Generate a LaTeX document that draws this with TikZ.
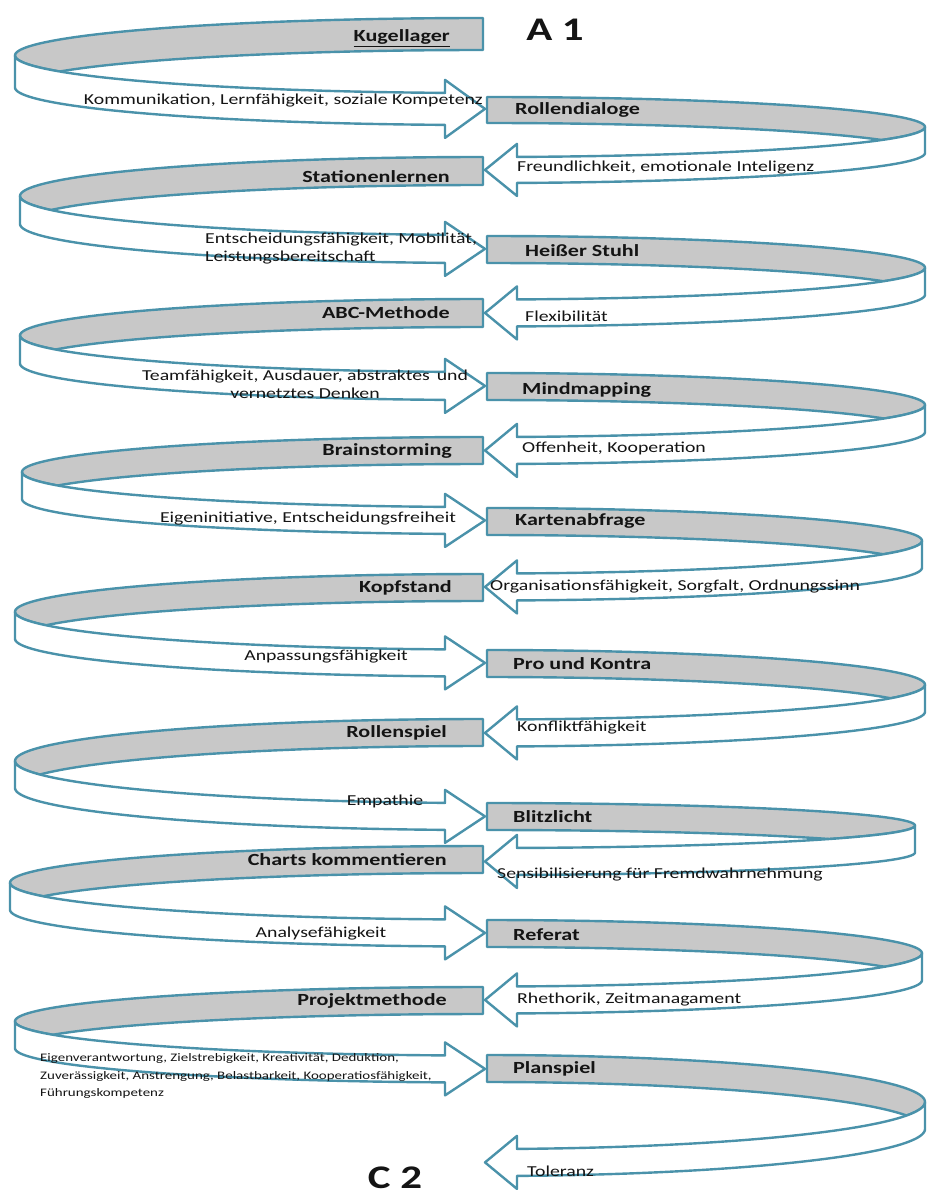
\documentclass[tikz,border=0pt]{standalone}
\usepackage{fontspec}
\setmainfont{Carlito}[FakeStretch=1.3]
\definecolor{bandline}{RGB}{74,146,170}
\definecolor{bandgrey}{RGB}{200,200,200}
\definecolor{ink}{RGB}{20,20,20}
\tikzset{
  band/.style={draw=bandline,line width=2.4pt,line join=round},
  lbl/.style={inner sep=0pt,text=ink,font=\fontsize{17}{19}\selectfont\bfseries},
  sml/.style={inner sep=0pt,text=ink,font=\fontsize{15.2}{18}\selectfont},
  big/.style={inner sep=0pt,text=ink,font=\fontsize{33}{36}\selectfont\bfseries}
}
% left loop: #1 top of box, #2 band width, #3 y radius, #4 leftmost x
\newcommand{\LUnit}[4]{%
  \pgfmathsetmacro\ucx{483}%
  \pgfmathsetmacro\urx{483-#4}%
  \pgfmathsetmacro\ury{#3}%
  \pgfmathsetmacro\uya{#1+#3}%
  \pgfmathsetmacro\uyb{#1+#3+#2}%
  \pgfmathsetmacro\uthP{180-asin(#2/(2*#3))}%
  \pgfmathsetmacro\uthB{acos((445-483)/\urx)}%
  \pgfmathsetmacro\uyt{\uya+\ury*sin(\uthB)}%
  \pgfmathsetmacro\uyu{\uyb+\ury*sin(\uthB)}%
  \pgfmathsetmacro\uym{(\uyt+\uyu)/2}%
  \filldraw[band,fill=bandgrey] plot[domain=90:180,samples=60] ({\ucx+\urx*cos(\x)},{\uya-\ury*sin(\x)})
    -- plot[domain=180:\uthP,samples=30] ({\ucx+\urx*cos(\x)},{\uya+\ury*sin(\x)})
    -- plot[domain=\uthP:90,samples=60] ({\ucx+\urx*cos(\x)},{\uyb-\ury*sin(\x)}) -- cycle;
  \filldraw[band,fill=white] plot[domain=180:\uthB,samples=60] ({\ucx+\urx*cos(\x)},{\uya+\ury*sin(\x)})
    -- (445,\uyt-13) -- (485,\uym) -- (445,\uyu+13)
    -- plot[domain=\uthB:180,samples=60] ({\ucx+\urx*cos(\x)},{\uyb+\ury*sin(\x)}) -- cycle;
}
% right loop: #1 top of box, #2 band width, #3 y radius, #4 rightmost x
\newcommand{\RUnit}[4]{%
  \pgfmathsetmacro\ucx{487}%
  \pgfmathsetmacro\urx{#4-487}%
  \pgfmathsetmacro\ury{#3}%
  \pgfmathsetmacro\uya{#1+#3}%
  \pgfmathsetmacro\uyb{#1+#3+#2}%
  \pgfmathsetmacro\uthP{asin(#2/(2*#3))}%
  \pgfmathsetmacro\uthB{acos((517-487)/\urx)}%
  \pgfmathsetmacro\uyt{\uya+\ury*sin(\uthB)}%
  \pgfmathsetmacro\uyu{\uyb+\ury*sin(\uthB)}%
  \pgfmathsetmacro\uym{(\uyt+\uyu)/2}%
  \filldraw[band,fill=bandgrey] plot[domain=90:0,samples=60] ({\ucx+\urx*cos(\x)},{\uya-\ury*sin(\x)})
    -- plot[domain=0:\uthP,samples=30] ({\ucx+\urx*cos(\x)},{\uya+\ury*sin(\x)})
    -- plot[domain=\uthP:90,samples=60] ({\ucx+\urx*cos(\x)},{\uyb-\ury*sin(\x)}) -- cycle;
  \filldraw[band,fill=white] plot[domain=0:\uthB,samples=60] ({\ucx+\urx*cos(\x)},{\uya+\ury*sin(\x)})
    -- (517,\uyt-13) -- (485,\uym) -- (517,\uyu+13)
    -- plot[domain=\uthB:0,samples=60] ({\ucx+\urx*cos(\x)},{\uyb+\ury*sin(\x)}) -- cycle;
}
\begin{document}
\begin{tikzpicture}[x=1pt,y=-1pt]
\useasboundingbox (0,0) rectangle (928,1196);
\fill[white] (0,0) rectangle (928,1196);

\LUnit{18}{32}{37.5}{15}
\RUnit{97}{26}{30}{925}
\LUnit{157}{28}{39}{20}
\RUnit{236}{27}{31.75}{925}
\LUnit{299}{28}{36.5}{20}
\RUnit{373}{27}{32}{925}
\LUnit{437}{27}{35}{22}
\RUnit{508}{27}{32.75}{922}
\LUnit{574}{27}{37.75}{15}
\RUnit{650}{27}{34.75}{925}
\LUnit{719}{27}{42}{15}
\RUnit{803}{27}{22.5}{915}
\LUnit{846}{27}{36.75}{10}
\RUnit{920}{27}{33.25}{922}
\LUnit{987}{27}{34.25}{15}
\RUnit{1055}{27}{47}{925}

% method labels
\node[lbl,anchor=east] (m1) at (450,38) {\underline{Kugellager}};
\node[lbl,anchor=west] (m2) at (515,110) {Rollendialoge};
\node[lbl,anchor=east] (m3) at (450,177) {Stationenlernen};
\node[lbl,anchor=west] (m4) at (525,251) {Heißer Stuhl};
\node[lbl,anchor=east] (m5) at (450,313) {ABC-Methode};
\node[lbl,anchor=west] (m6) at (522,390) {Mindmapping};
\node[lbl,anchor=east] (m7) at (452,451) {Brainstorming};
\node[lbl,anchor=west] (m8) at (515,521) {Kartenabfrage};
\node[lbl,anchor=east] (m9) at (452,588) {Kopfstand};
\node[lbl,anchor=west] (m10) at (513,664) {Pro und Kontra};
\node[lbl,anchor=east] (m11) at (447,733) {Rollenspiel};
\node[lbl,anchor=west] (m12) at (513,817) {Blitzlicht};
\node[lbl,anchor=east] (m13) at (447,860) {Charts kommentieren};
\node[lbl,anchor=west] (m14) at (513,935) {Referat};
\node[lbl,anchor=east] (m15) at (447,1001) {Projektmethode};
\node[lbl,anchor=west] (m16) at (513,1069) {Planspiel};

% competence texts
\node[sml,anchor=east] (c1) at (483,101) {Kommunikation, Lernfähigkeit, soziale Kompetenz};
\node[sml,anchor=west] (c2) at (517,168) {Freundlichkeit, emotionale Inteligenz};
\node[sml,anchor=west,align=left] (c3) at (205,249) {Entscheidungsfähigkeit, Mobilität,\\Leistungsbereitschaft};
\node[sml,anchor=west] (c4) at (525,316) {Flexibilität};
\node[sml,align=center] (c5) at (305,384) {Teamfähigkeit, Ausdauer, abstraktes\, und\\vernetztes Denken};
\node[sml,anchor=west] (c6) at (522,448) {Offenheit, Kooperation};
\node[sml] (c7) at (308,519) {Eigeninitiative, Entscheidungsfreiheit};
\node[sml,anchor=west] (c8) at (490,587) {Organisationsfähigkeit, Sorgfalt, Ordnungssinn};
\node[sml] (c9) at (326,657) {Anpassungsfähigkeit};
\node[sml,anchor=west] (c10) at (517,728) {Konfliktfähigkeit};
\node[sml] (c11) at (385,801) {Empathie};
\node[sml,anchor=west] (c12) at (497,875) {Sensibilisierung für Fremdwahrnehmung};
\node[sml] (c13) at (321,934) {Analysefähigkeit};
\node[sml,anchor=west] (c14) at (517,1000) {Rhethorik, Zeitmanagament};
\node[sml,anchor=west,align=left,font=\fontsize{11.5}{17.5}\selectfont] (c15) at (40,1076) {Eigenverantwortung, Zielstrebigkeit, Kreativität, Deduktion,\\Zuverässigkeit, Anstrengung, Belastbarkeit, Kooperatiosfähigkeit,\\Führungskompetenz};
\node[sml,anchor=west] (c16) at (527,1171) {Toleranz};

\node[big] (a1) at (555,30) {A 1};
\node[big] (c2t) at (395,1178) {C 2};
\end{tikzpicture}
\end{document}
